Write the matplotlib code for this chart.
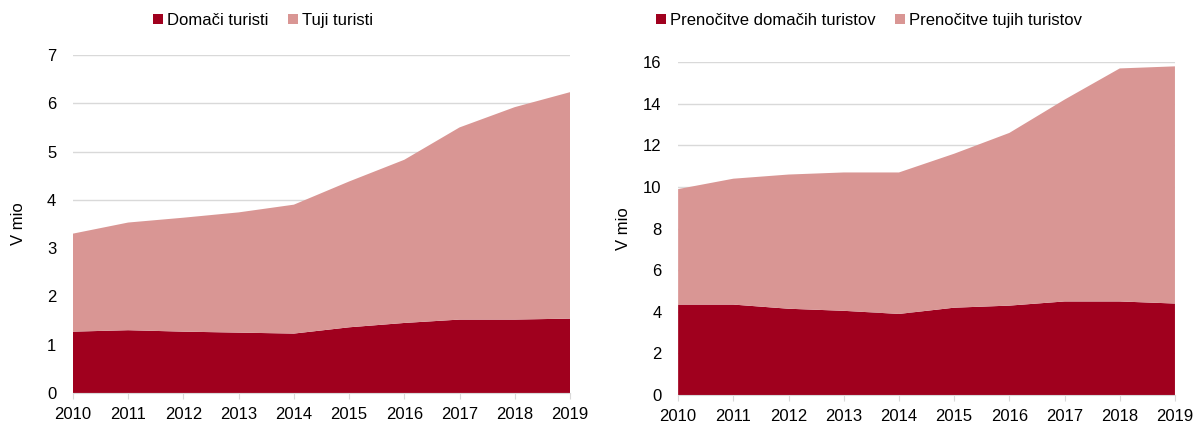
import numpy as np
import matplotlib.pyplot as plt

plt.rcParams['font.family'] = ['Liberation Sans', 'DejaVu Sans']
plt.rcParams['font.size'] = 12

years = [2010, 2011, 2012, 2013, 2014, 2015, 2016, 2017, 2018, 2019]

# prihodi turistov (v mio)
domaci = [1.27, 1.30, 1.27, 1.25, 1.23, 1.36, 1.45, 1.52, 1.52, 1.54]
tuji = [2.03, 2.23, 2.36, 2.49, 2.67, 3.02, 3.38, 3.98, 4.40, 4.69]

# prenočitve (v mio)
pren_domaci = [4.35, 4.35, 4.15, 4.05, 3.90, 4.20, 4.30, 4.50, 4.50, 4.40]
pren_tuji = [5.55, 6.05, 6.45, 6.65, 6.80, 7.40, 8.30, 9.70, 11.20, 11.40]

dark = '#A0001E'
light = '#D99694'

fig = plt.figure(figsize=(11.96, 4.23), dpi=100)
ax1 = fig.add_axes([0.061, 0.071, 0.4156, 0.799])
ax2 = fig.add_axes([0.567, 0.066, 0.4154, 0.787])


def draw(ax, a, b, labels, ymax, step, leg_x):
    ax.stackplot(years, a, b, colors=[dark, light], labels=labels, linewidth=0)
    ax.set_xlim(years[0], years[-1])
    ax.set_ylim(0, ymax)
    ax.set_xticks(years)
    ax.set_yticks(np.arange(0, ymax + 0.1, step))
    ax.grid(axis='y', color='#D9D9D9', linewidth=1)
    ax.set_axisbelow(True)
    for s in ['top', 'right', 'left']:
        ax.spines[s].set_visible(False)
    ax.spines['bottom'].set_color('#D9D9D9')
    ax.tick_params(axis='y', length=0, pad=12)
    ax.tick_params(axis='x', color='#D9D9D9', length=4, pad=6)
    ax.set_ylabel('V mio')
    ax.yaxis.set_label_coords(-0.095, 0.5)
    fig.legend(*ax.get_legend_handles_labels(), loc='center',
               bbox_to_anchor=(leg_x, 0.952), ncol=2, frameon=False,
               handlelength=0.6, handleheight=0.6, handletextpad=0.25,
               columnspacing=1.2)


draw(ax1, domaci, tuji, ['Domači turisti', 'Tuji turisti'], 7, 1, 0.22)
draw(ax2, pren_domaci, pren_tuji,
     ['Prenočitve domačih turistov', 'Prenočitve tujih turistov'], 16, 2, 0.7266)

plt.savefig('out.png', dpi=100)
